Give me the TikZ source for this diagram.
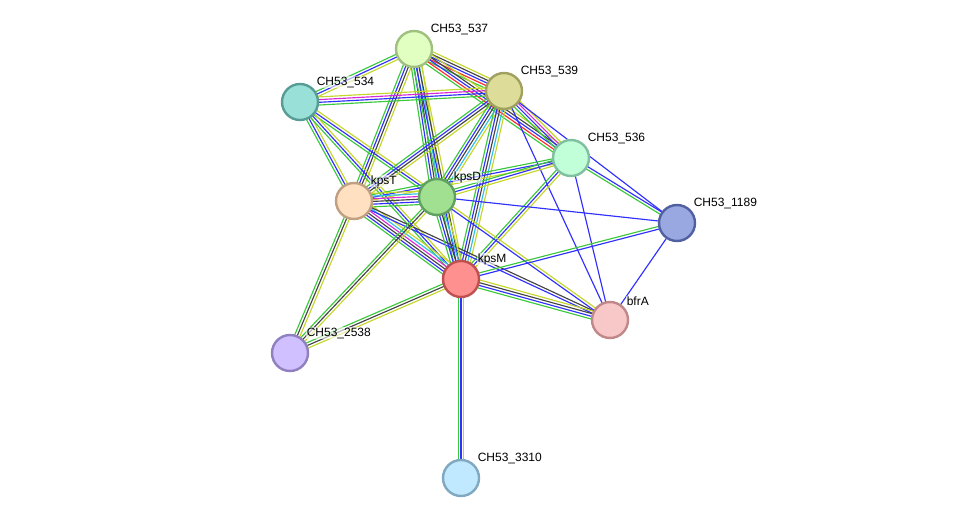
\documentclass[tikz,border=0pt]{standalone}
\usepackage{fontspec}
\setmainfont{Liberation Sans}
\usepackage{tikz}
\usetikzlibrary{calc,backgrounds}

\definecolor{sgreen}{HTML}{3CC83C}
\definecolor{sblue}{HTML}{3030FF}
\definecolor{sblack}{HTML}{444444}
\definecolor{syellow}{HTML}{C4D62A}
\definecolor{smagenta}{HTML}{D82AD8}
\definecolor{scyan}{HTML}{30BEE8}
\definecolor{sred}{HTML}{FF2A2A}

% one bundle of parallel evidence lines between two nodes
\newcommand\bundle[3]{%
  \foreach \col [count=\n] in {#3} {\xdef\bundlen{\n}}%
  \foreach \col [count=\i] in {#3} {%
    \pgfmathsetmacro\off{(\i-(\bundlen+1)/2)*2.7}%
    \draw[link,draw=\col] ($(#1.center)!\off pt!90:(#2.center)$) -- ($(#2.center)!\off pt!-90:(#1.center)$);
  }%
}

\begin{document}
\begin{tikzpicture}[x=1pt,y=-1pt,
  prot/.style={circle,minimum size=36pt,inner sep=0pt,line width=2.4pt},
  lbl/.style={font=\fontsize{12}{14}\selectfont,inner sep=0.6pt,fill=white,fill opacity=0.6,text opacity=1,label distance=2pt,xshift=1pt,yshift=-1.5pt},
  link/.style={line width=1.15pt}]
\useasboundingbox (0,0) rectangle (976,524);

\node[prot,fill={rgb,255:red,224;green,255;blue,192},draw={rgb,255:red,160;green,192;blue,128},label={[lbl]45:CH53\_537}] (n537) at (414,49) {};
\node[prot,fill={rgb,255:red,153;green,224;blue,216},draw={rgb,255:red,88;green,156;blue,150},label={[lbl]45:CH53\_534}] (n534) at (300,102) {};
\node[prot,fill={rgb,255:red,221;green,221;blue,153},draw={rgb,255:red,160;green,160;blue,96},label={[lbl]45:CH53\_539}] (n539) at (504,91) {};
\node[prot,fill={rgb,255:red,192;green,255;blue,216},draw={rgb,255:red,128;green,192;blue,160},label={[lbl]45:CH53\_536}] (n536) at (571,158) {};
\node[prot,fill={rgb,255:red,255;green,224;blue,192},draw={rgb,255:red,192;green,160;blue,128},label={[lbl]45:kpsT}] (kpsT) at (354,201) {};
\node[prot,fill={rgb,255:red,160;green,224;blue,144},draw={rgb,255:red,96;green,160;blue,96},label={[lbl]45:kpsD}] (kpsD) at (437,197) {};
\node[prot,fill={rgb,255:red,153;green,168;blue,224},draw={rgb,255:red,80;green,96;blue,160},label={[lbl]45:CH53\_1189}] (n1189) at (677,223) {};
\node[prot,fill={rgb,255:red,255;green,144;blue,144},draw={rgb,255:red,192;green,80;blue,80},label={[lbl]45:kpsM}] (kpsM) at (461,279) {};
\node[prot,fill={rgb,255:red,248;green,200;blue,200},draw={rgb,255:red,192;green,136;blue,136},label={[lbl]45:bfrA}] (bfrA) at (610,320) {};
\node[prot,fill={rgb,255:red,208;green,192;blue,255},draw={rgb,255:red,144;green,128;blue,192},label={[lbl]45:CH53\_2538}] (n2538) at (290,353) {};
\node[prot,fill={rgb,255:red,192;green,232;blue,255},draw={rgb,255:red,128;green,168;blue,192},label={[lbl]45:CH53\_3310}] (n3310) at (461,478) {};

\begin{pgfonlayer}{background}
\bundle{n537}{n534}{sgreen,sblue,syellow}
\bundle{n537}{n539}{sgreen,sred,sblue,sblack,syellow}
\bundle{n537}{n536}{sgreen,sred,sblue,sblack,syellow}
\bundle{n537}{kpsT}{sgreen,sblue,sblack,syellow}
\bundle{n537}{kpsD}{sgreen,sblue,sblack,scyan,syellow}
\bundle{n537}{kpsM}{sgreen,sblue,sblack,syellow}
\bundle{n534}{n539}{sgreen,sblue,smagenta,syellow}
\bundle{n534}{kpsT}{sgreen,sblue,syellow}
\bundle{n534}{kpsD}{sgreen,sblue,syellow}
\bundle{n534}{kpsM}{sgreen,sblue,syellow}
\bundle{n539}{n536}{sgreen,sblue,smagenta,syellow}
\bundle{n539}{kpsT}{sgreen,sblue,sblack,syellow}
\bundle{n539}{kpsD}{sgreen,sblue,sblack,scyan,syellow}
\bundle{n539}{kpsM}{sgreen,sblue,sblack,scyan,syellow}
\bundle{n539}{n1189}{sblue}
\bundle{n539}{bfrA}{sblue}
\bundle{n536}{kpsT}{sgreen,sblue,syellow}
\bundle{n536}{kpsD}{sgreen,sblue,syellow}
\bundle{n536}{kpsM}{sgreen,sblue,syellow}
\bundle{n536}{n1189}{sgreen,sblue}
\bundle{n536}{bfrA}{sblue}
\bundle{kpsT}{kpsD}{sgreen,sblue,sblack,smagenta,scyan,syellow}
\bundle{kpsT}{kpsM}{sgreen,sblue,sblack,smagenta,scyan,syellow}
\bundle{kpsT}{bfrA}{sblue,sblack}
\bundle{kpsT}{n2538}{sgreen,sblack,syellow}
\bundle{kpsD}{kpsM}{sgreen,sblue,sblack,scyan,syellow}
\bundle{kpsD}{n1189}{sblue}
\bundle{kpsD}{bfrA}{sblue,syellow}
\bundle{kpsD}{n2538}{sgreen,sblack,syellow}
\bundle{kpsM}{n1189}{sblue,sgreen}
\bundle{kpsM}{bfrA}{sgreen,sblue,sblack,syellow}
\bundle{kpsM}{n2538}{sgreen,sblack,syellow}
\bundle{kpsM}{n3310}{sgreen,sblue,syellow}
\bundle{n1189}{bfrA}{sblue}
\end{pgfonlayer}
\end{tikzpicture}
\end{document}
